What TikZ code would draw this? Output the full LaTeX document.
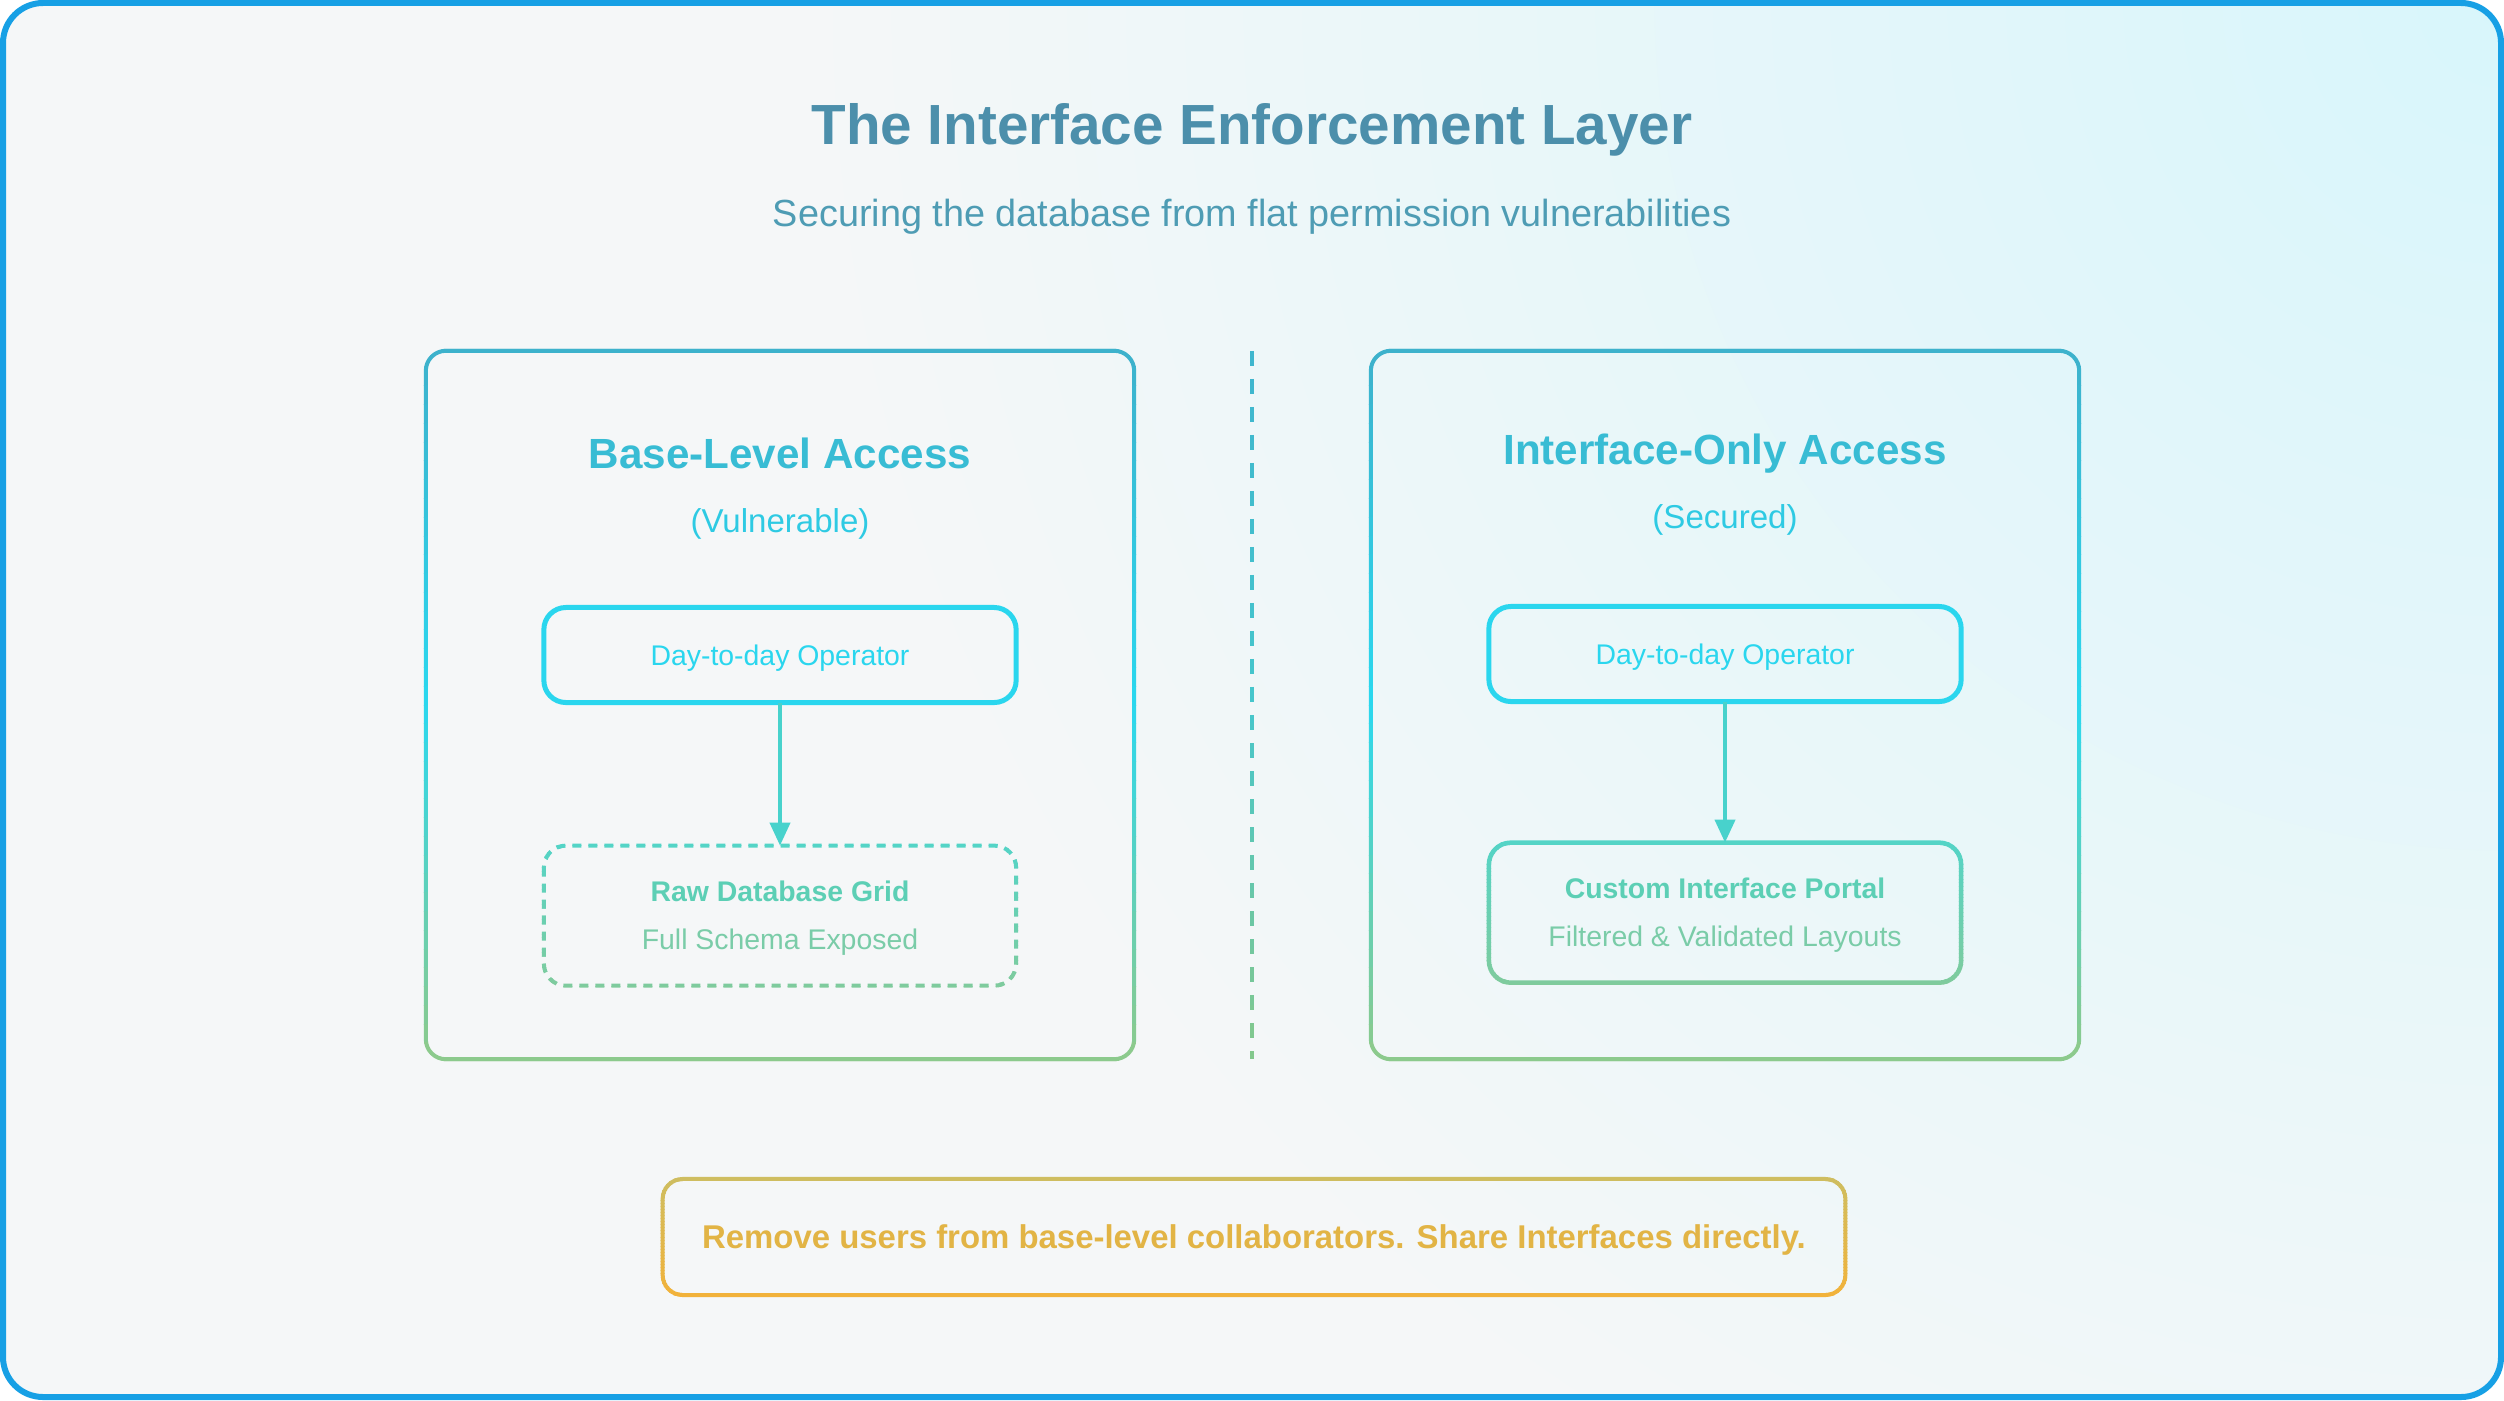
\documentclass[tikz,border=0pt]{standalone}
\usepackage{fontspec}
\setmainfont{Liberation Sans}
\usetikzlibrary{positioning,arrows.meta,calc}

\definecolor{frameblue}{HTML}{17A0E5}
\definecolor{bgbase}{HTML}{F5F7F8}
\definecolor{bgcyan}{HTML}{D8F6FB}
\definecolor{titleblue}{HTML}{4C8FAB}
\definecolor{subblue}{HTML}{4E9CB4}
\definecolor{headcyan}{HTML}{38BCD4}
\definecolor{tagcyan}{HTML}{2ECAE3}
\definecolor{opcyan}{HTML}{2AD6EE}
\definecolor{arrowteal}{HTML}{48D2CC}
\definecolor{paneltop}{HTML}{3FAFC9}
\definecolor{panelmid}{HTML}{2AD8EF}
\definecolor{panelbot}{HTML}{93C985}
\definecolor{divtop}{HTML}{3EB4CE}
\definecolor{divmid}{HTML}{46C6CC}
\definecolor{divbot}{HTML}{88C888}
\definecolor{gridtop}{HTML}{52D4C8}
\definecolor{gridbot}{HTML}{80CB9C}
\colorlet{gridmid}{gridtop!50!gridbot}
\definecolor{gridtxt}{HTML}{5CCFB5}
\definecolor{gridsub}{HTML}{7ACCA8}
\definecolor{notetop}{HTML}{CDBE62}
\definecolor{notebot}{HTML}{F2B23A}
\colorlet{notemid}{notetop!50!notebot}
\definecolor{notetxt}{HTML}{E2B445}

% stroke a path with a vertical three-stop gradient, band by band
% #1 node giving the extent, #2 top, #3 middle, #4 bottom, #5 options, #6 path
\newcommand\gradstroke[6]{%
  \foreach \k in {0,...,39}{%
    \pgfmathsetmacro\ta{-0.03+\k*1.06/40}%
    \pgfmathsetmacro\tb{-0.03+(\k+1)*1.06/40}%
    \pgfmathsetmacro\tpos{(\k+0.5)/40}%
    \ifdim\tpos pt<0.5pt
      \pgfmathtruncatemacro\mixpct{100-200*\tpos}%
      \colorlet{bandcol}{#2!\mixpct!#3}%
    \else
      \pgfmathtruncatemacro\mixpct{200-200*\tpos}%
      \colorlet{bandcol}{#3!\mixpct!#4}%
    \fi
    \begin{scope}
      \coordinate (bandA) at ($(#1.north)!\ta!(#1.south)$);
      \coordinate (bandB) at ($(#1.north)!\tb!(#1.south)$);
      \coordinate (bandL) at ([xshift=-1cm]#1.west);
      \coordinate (bandR) at ([xshift=1cm]#1.east);
      \clip (bandL |- bandA) rectangle (bandR |- bandB);
      \draw[bandcol,#5] #6;
    \end{scope}
  }%
}

\begin{document}
\begin{tikzpicture}[
    x=0.01cm, y=-0.01cm,
    >=Stealth,
    panel/.style   ={minimum width=7.08cm, minimum height=7.08cm,
                     inner sep=0pt, outer sep=0pt},
    panelline/.style={line width=0.04cm, rounded corners=0.2cm},
    paneltitle/.style={font=\fontsize{12}{14}\selectfont\bfseries, text=headcyan},
    paneltag/.style ={font=\fontsize{9.4}{11}\selectfont, text=tagcyan},
    opbox/.style   ={draw=opcyan, line width=0.05cm, rounded corners=0.22cm,
                     minimum width=4.72cm, minimum height=0.95cm,
                     inner sep=0pt, outer sep=0pt, text=opcyan, text depth=0pt,
                     font=\fontsize{8.08}{10}\selectfont},
    endbox/.style  ={minimum width=4.72cm, minimum height=1.4cm,
                     inner sep=0pt, outer sep=0pt, align=center, text=gridtxt,
                     text depth=0pt, font=\fontsize{8.08}{13.66}\selectfont},
    boxline/.style ={line width=0.045cm, rounded corners=0.22cm},
    flow/.style    ={-{Triangle[length=0.23cm,width=0.2cm]},
                     line width=0.04cm, arrowteal},
]
\useasboundingbox (0,0) rectangle (2504,1400);

% =========================================================
% Background and outer frame
% =========================================================
\begin{scope}
\clip[rounded corners=0.4cm] (3,3) rectangle (2501,1397);
\fill[bgbase] (0,0) rectangle (2504,1400);
\shade[inner color=bgcyan, outer color=bgbase] (2504,0) circle (17cm);
\end{scope}
\draw[frameblue, line width=0.06cm, rounded corners=0.4cm]
    (3,3) rectangle (2501,1397);

% =========================================================
% Heading
% =========================================================
\node[font=\fontsize{16.1}{19}\selectfont\bfseries, text=titleblue]
    (title) at (1252,130) {The Interface Enforcement Layer};
\node[font=\fontsize{10.75}{13}\selectfont, text=subblue]
    (subtitle) at (1252,217) {Securing the database from flat permission vulnerabilities};

% =========================================================
% Left panel: base-level access
% =========================================================
\node[panel] (leftpanel) at (780,705) {};
\gradstroke{leftpanel}{paneltop}{panelmid}{panelbot}{panelline}
    {(leftpanel.north west) rectangle (leftpanel.south east)}

\node[paneltitle] (lefthead) at (780,453) {Base-Level Access};
\node[paneltag]   (lefttag)  at (780,524) {(Vulnerable)};

\node[opbox] (leftop) at (780,655) {Day-to-day Operator};
\node[endbox, below=1.43cm of leftop] (leftgrid)
    {{\bfseries Raw Database Grid}\\{\color{gridsub}Full Schema Exposed}};
\gradstroke{leftgrid}{gridtop}{gridmid}{gridbot}
    {boxline, line width=0.04cm, dash pattern=on 0.09cm off 0.07cm}
    {(leftgrid.north west) rectangle (leftgrid.south east)}

\draw[flow] (leftop) -- (leftgrid);

% =========================================================
% Divider
% =========================================================
\node[panel, minimum width=0pt] (divider) at (1252,705) {};
\gradstroke{divider}{divtop}{divmid}{divbot}
    {line width=0.04cm, dash pattern=on 0.15cm off 0.13cm}
    {(divider.north) -- (divider.south)}

% =========================================================
% Right panel: interface-only access
% =========================================================
\node[panel] (rightpanel) at (1725,705) {};
\gradstroke{rightpanel}{paneltop}{panelmid}{panelbot}{panelline}
    {(rightpanel.north west) rectangle (rightpanel.south east)}

\node[paneltitle] (righthead) at (1725,454) {Interface-Only Access};
\node[paneltag]   (righttag)  at (1725,520) {(Secured)};

\node[opbox] (rightop) at (1725,654) {Day-to-day Operator};
\node[endbox, below=1.41cm of rightop] (portal)
    {{\bfseries Custom Interface Portal}\\{\color{gridsub}Filtered \& Validated Layouts}};
\gradstroke{portal}{gridtop}{gridmid}{gridbot}{boxline}
    {(portal.north west) rectangle (portal.south east)}

\draw[flow] (rightop) -- (portal);

% =========================================================
% Take-away note
% =========================================================
\node[minimum width=11.82cm, minimum height=1.16cm, inner sep=0pt, outer sep=0pt,
      text depth=0pt, font=\fontsize{9.36}{11}\selectfont\bfseries, text=notetxt]
    (note) at (1254,1237)
    {Remove users from base-level collaborators. Share Interfaces directly.};
\gradstroke{note}{notetop}{notemid}{notebot}{boxline, line width=0.04cm, rounded corners=0.2cm}
    {(note.north west) rectangle (note.south east)}

\end{tikzpicture}
\end{document}
